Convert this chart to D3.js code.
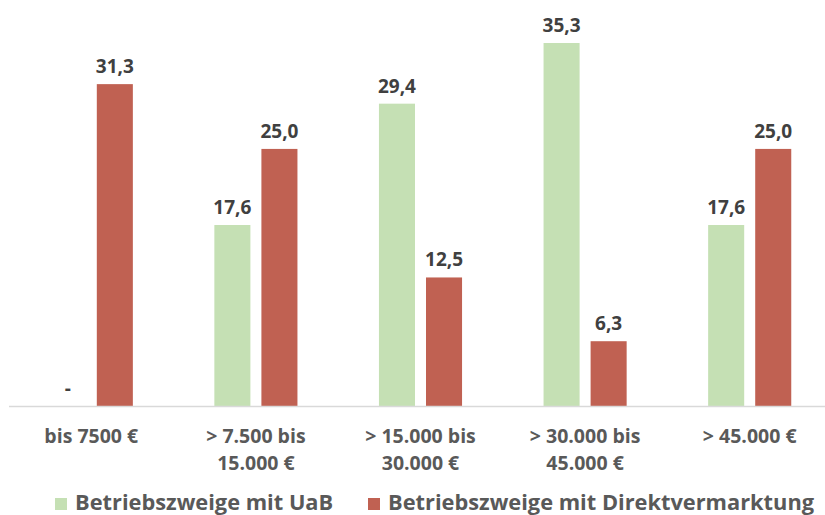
<!DOCTYPE html>
<html>
<head>
<meta charset="utf-8">
<script src="https://cdn.jsdelivr.net/npm/d3@7"></script>
<style>
  body { margin: 0; background: #fff; }
  svg { font-family: "Open Sans", Lato, sans-serif; font-weight: bold; }
</style>
</head>
<body>
<div id="chart"></div>
<script>
// Umsatzklassen
const categories = [
    ['bis 7500 €'],
    ['> 7.500 bis', '15.000 €'],
    ['> 15.000 bis', '30.000 €'],
    ['> 30.000 bis', '45.000 €'],
    ['> 45.000 €']
];
const seriesNames = ['Betriebszweige mit UaB', 'Betriebszweige mit Direktvermarktung'];
const uabValues = [0, 17.6, 29.4, 35.3, 17.6];
const direktValues = [31.3, 25.0, 12.5, 6.3, 25.0];
const colors = ['#c5e0b4', '#c06152'];

const width = 825, height = 515;
const baseline = 406;

const svg = d3.select('#chart').append('svg')
    .attr('width', width)
    .attr('height', height);

// band scale for the categories, subgroup scale for the two bars
const x = d3.scaleBand()
    .domain(d3.range(categories.length))
    .range([9, 832]);

const xSub = d3.scaleBand()
    .domain([0, 1])
    .range([40.75, x.bandwidth() - 40.75])
    .paddingInner(0.234);

const y = d3.scaleLinear()
    .domain([0, 35.3])
    .range([baseline, 43]);

const rows = categories.map((c, i) => ({
    idx: i,
    vals: [uabValues[i], direktValues[i]]
}));

const groups = svg.selectAll('g.cat')
    .data(rows)
    .join('g')
    .attr('class', 'cat')
    .attr('transform', d => `translate(${x(d.idx)},0)`);

groups.selectAll('rect')
    .data(d => d.vals.map((v, s) => ({ v, s })))
    .join('rect')
    .attr('x', d => xSub(d.s))
    .attr('width', xSub.bandwidth())
    .attr('y', d => y(d.v))
    .attr('height', d => baseline - y(d.v))
    .attr('fill', d => colors[d.s]);

// value labels ("-" for zero)
groups.selectAll('text.val')
    .data(d => d.vals.map((v, s) => ({ v, s })))
    .join('text')
    .attr('class', 'val')
    .attr('x', d => xSub(d.s) + xSub.bandwidth() / 2)
    .attr('y', d => y(d.v) - 11)
    .attr('text-anchor', 'middle')
    .attr('fill', '#404040')
    .style('font-size', '19px')
    .text(d => d.v === 0 ? '-' : d3.format('.1f')(d.v).replace('.', ','));

// axis line
svg.append('line')
    .attr('x1', 9).attr('x2', width)
    .attr('y1', baseline + 0.5).attr('y2', baseline + 0.5)
    .attr('stroke', '#d9d9d9')
    .attr('stroke-width', 1.5);

// category labels
groups.append('text')
    .attr('text-anchor', 'middle')
    .attr('fill', '#595959')
    .style('font-size', '19.5px')
    .selectAll('tspan')
    .data(d => categories[d.idx])
    .join('tspan')
    .attr('x', x.bandwidth() / 2)
    .attr('y', (d, i) => 443 + i * 27)
    .text(d => d);

// legend
const legendX = [55, 368];
const legend = svg.selectAll('g.legend')
    .data(seriesNames)
    .join('g')
    .attr('class', 'legend')
    .attr('transform', (d, i) => `translate(${legendX[i]},0)`);

legend.append('rect')
    .attr('x', 0).attr('y', 498)
    .attr('width', 12).attr('height', 12)
    .attr('fill', (d, i) => colors[i]);

legend.append('text')
    .attr('x', 20).attr('y', 510)
    .attr('fill', '#595959')
    .style('font-size', '21.8px')
    .text(d => d);
</script>
</body>
</html>
